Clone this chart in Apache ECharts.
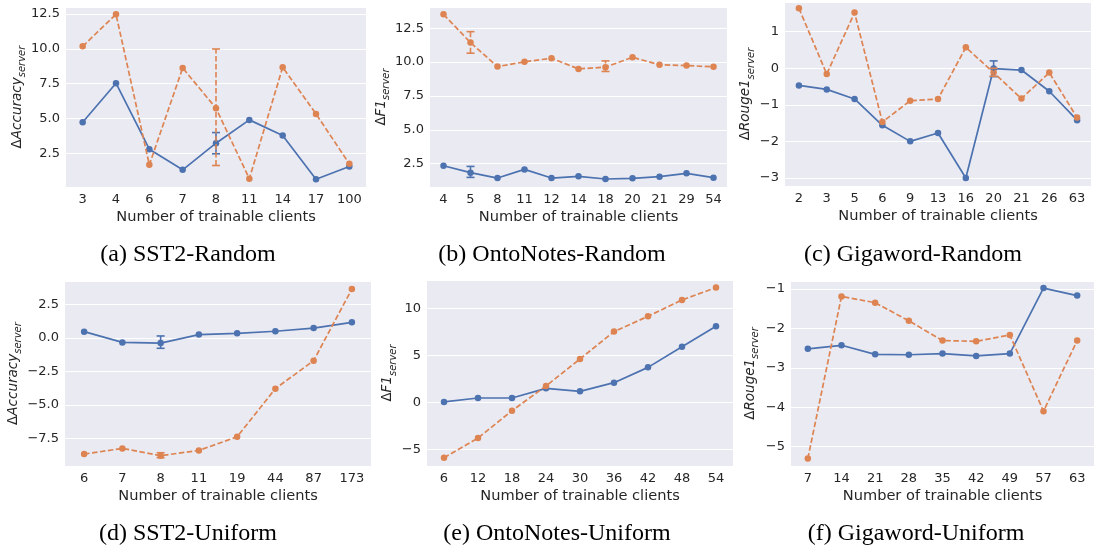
<!DOCTYPE html>
<html>
<head>
<meta charset="utf-8">
<script src="https://cdn.jsdelivr.net/npm/echarts@6/dist/echarts.min.js"></script>
<style>
html,body{margin:0;padding:0;background:#fff;}
#chart{width:1094px;height:551px;}
</style>
</head>
<body>
<div id="chart"></div>
<script>
// ---------- data ----------
const catsA = ['3','4','6','7','8','11','14','17','100'];
const blueA = [4.74, 7.54, 2.81, 1.33, 3.24, 4.91, 3.79, 0.66, 1.57];
const orangeA = [10.18, 12.48, 1.69, 8.63, 5.75, 0.69, 8.68, 5.34, 1.76];
const errBlueA = [['8', 2.48, 4.0]];
const errOrangeA = [['8', 1.64, 9.99]];

const catsB = ['4','5','8','11','12','14','18','20','21','29','54'];
const blueB = [2.35, 1.84, 1.44, 2.08, 1.44, 1.57, 1.37, 1.42, 1.54, 1.79, 1.47];
const orangeB = [13.53, 11.44, 9.67, 10.02, 10.29, 9.50, 9.63, 10.36, 9.80, 9.75, 9.65];
const errBlueB = [['5', 1.49, 2.30]];
const errOrangeB = [['5', 10.66, 12.25], ['18', 9.31, 10.09]];

const catsC = ['2','3','5','6','9','13','16','20','21','26','63'];
const blueC = [-0.47, -0.58, -0.84, -1.56, -2.00, -1.77, -3.00, -0.01, -0.05, -0.63, -1.42];
const orangeC = [1.64, -0.16, 1.52, -1.47, -0.89, -0.84, 0.57, -0.12, -0.83, -0.12, -1.35];
const errBlueC = [['20', -0.23, 0.20]];
const errOrangeC = [['20', -0.22, 0.0]];

const catsD = ['6','7','8','11','19','44','87','173'];
const blueD = [0.46, -0.34, -0.39, 0.24, 0.34, 0.49, 0.73, 1.16];
const orangeD = [-8.67, -8.25, -8.79, -8.40, -7.38, -3.79, -1.70, 3.64];
const errBlueD = [['8', -0.78, 0.14]];
const errOrangeD = [['8', -8.94, -8.57]];

const catsE = ['6','12','18','24','30','36','42','48','54'];
const blueE = [0.04, 0.46, 0.46, 1.49, 1.17, 2.09, 3.72, 5.92, 8.09];
const orangeE = [-5.89, -3.79, -0.89, 1.74, 4.61, 7.52, 9.15, 10.89, 12.2];
const errBlueE = [];
const errOrangeE = [];

const catsF = ['7','14','21','28','35','42','49','57','63'];
const blueF = [-2.52, -2.43, -2.66, -2.67, -2.64, -2.70, -2.64, -0.98, -1.17];
const orangeF = [-5.30, -1.19, -1.35, -1.81, -2.31, -2.33, -2.17, -4.10, -2.31];
const errBlueF = [];
const errOrangeF = [];

const captions = ['(a) SST2-Random', '(b) OntoNotes-Random', '(c) Gigaword-Random',
                  '(d) SST2-Uniform', '(e) OntoNotes-Uniform', '(f) Gigaword-Uniform'];
const xTitle = 'Number of trainable clients';
const yNames = ['Accuracy', 'F1', 'Rouge1', 'Accuracy', 'F1', 'Rouge1'];
const ySub = 'server';

// ---------- styling / layout ----------
const BLUE = '#4c72b0', ORANGE = '#dd8452';
const TXT = '#262626';
const FONT = 'DejaVu Sans';

const panels = [
  {cats: catsA, blue: blueA, orange: orangeA, eb: errBlueA, eo: errOrangeA,
   grid: {left: 66, top: 7, width: 300, height: 180}, min: 0.1, max: 13.0, step: 2.5, dec: 1, gap: 35},
  {cats: catsB, blue: blueB, orange: orangeB, eb: errBlueB, eo: errOrangeB,
   grid: {left: 430, top: 7, width: 297, height: 180}, min: 0.78, max: 14.07, step: 2.5, dec: 1, gap: 39},
  {cats: catsC, blue: blueC, orange: orangeC, eb: errBlueC, eo: errOrangeC,
   grid: {left: 785, top: 2, width: 306, height: 184}, min: -3.22, max: 1.81, step: 1, dec: 0, gap: 29},
  {cats: catsD, blue: blueD, orange: orangeD, eb: errBlueD, eo: errOrangeD,
   grid: {left: 65, top: 281, width: 306, height: 185}, min: -9.56, max: 4.24, step: 2.5, dec: 1, gap: 39},
  {cats: catsE, blue: blueE, orange: orangeE, eb: errBlueE, eo: errOrangeE,
   grid: {left: 427, top: 280, width: 306, height: 186}, min: -6.77, max: 13.01, step: 5, dec: 0, gap: 29},
  {cats: catsF, blue: blueF, orange: orangeF, eb: errBlueF, eo: errOrangeF,
   grid: {left: 791, top: 281, width: 306, height: 185}, min: -5.49, max: -0.80, step: 1, dec: 0, gap: 31}
];
const capPos = [[188, 243], [552, 243], [913, 243], [188, 522], [557, 522], [916, 522]];

const fmt = (dec) => (v) => v.toFixed(dec).replace('-', '\u2212');

const grids = [], xAxes = [], yAxes = [], series = [], titles = [];

function errSeries(data, idx, color, dashed) {
  return {
    type: 'custom', xAxisIndex: idx, yAxisIndex: idx, z: 5,
    data: data,
    encode: {x: 0, y: [1, 2]},
    renderItem: function (params, api) {
      const x = api.value(0);
      const pLo = api.coord([x, api.value(1)]);
      const pHi = api.coord([x, api.value(2)]);
      const w = 4;
      return {type: 'group', children: [
        {type: 'line', shape: {x1: pLo[0], y1: pLo[1], x2: pHi[0], y2: pHi[1]},
         style: {stroke: color, lineWidth: 1.6, lineDash: dashed ? [5.5, 2.5] : null}},
        {type: 'line', shape: {x1: pLo[0] - w, y1: pLo[1], x2: pLo[0] + w, y2: pLo[1]},
         style: {stroke: color, lineWidth: 1.6}},
        {type: 'line', shape: {x1: pHi[0] - w, y1: pHi[1], x2: pHi[0] + w, y2: pHi[1]},
         style: {stroke: color, lineWidth: 1.6}}
      ]};
    }
  };
}

panels.forEach((p, i) => {
  grids.push(Object.assign({show: true, backgroundColor: '#eaeaf2', borderWidth: 0, containLabel: false}, p.grid));
  xAxes.push({
    type: 'category', gridIndex: i, data: p.cats, boundaryGap: true,
    axisLine: {show: false}, axisTick: {show: false},
    axisLabel: {color: TXT, fontFamily: FONT, fontSize: 13, margin: 6, interval: 0},
    splitLine: {show: false},
    name: xTitle, nameLocation: 'middle', nameGap: 23,
    nameTextStyle: {color: TXT, fontFamily: FONT, fontSize: 14.6}
  });
  yAxes.push({
    type: 'value', gridIndex: i, min: p.min, max: p.max,
    minInterval: p.step, maxInterval: p.step,
    axisLine: {show: false}, axisTick: {show: false},
    axisLabel: {color: TXT, fontFamily: FONT, fontSize: 13, margin: 6,
                showMinLabel: false, showMaxLabel: false, formatter: fmt(p.dec)},
    splitLine: {show: true, lineStyle: {color: '#ffffff', width: 1}},
    name: '{d|\u0394}{m|' + yNames[i] + '}{s|' + ySub + '}',
    nameLocation: 'middle', nameGap: p.gap, nameRotate: 90,
    nameTextStyle: {
      color: TXT, fontFamily: FONT,
      rich: {
        d: {fontSize: 13.5, fontFamily: FONT, color: TXT, lineHeight: 20},
        m: {fontSize: 13.5, fontFamily: FONT, fontStyle: 'italic', color: TXT, lineHeight: 20},
        s: {fontSize: 10, fontFamily: FONT, fontStyle: 'italic', color: TXT, lineHeight: 10, verticalAlign: 'bottom'}
      }
    }
  });
  series.push({
    type: 'line', xAxisIndex: i, yAxisIndex: i, data: p.blue,
    symbol: 'circle', symbolSize: 6.5, showSymbol: true,
    lineStyle: {color: BLUE, width: 1.7}, itemStyle: {color: BLUE},
    z: 3, animation: false
  });
  series.push({
    type: 'line', xAxisIndex: i, yAxisIndex: i, data: p.orange,
    symbol: 'circle', symbolSize: 6.5, showSymbol: true,
    lineStyle: {color: ORANGE, width: 1.7, type: [5.5, 2.5]}, itemStyle: {color: ORANGE},
    z: 4, animation: false
  });
  if (p.eb.length) series.push(errSeries(p.eb, i, BLUE, false));
  if (p.eo.length) series.push(errSeries(p.eo, i, ORANGE, true));
  titles.push({
    text: captions[i], left: capPos[i][0], top: capPos[i][1], textAlign: 'center', padding: 0,
    textStyle: {fontFamily: 'Liberation Serif', fontSize: 24, fontWeight: 'normal', color: '#000'}
  });
});

const chart = echarts.init(document.getElementById('chart'), null, {renderer: 'canvas'});
chart.setOption({
  animation: false,
  backgroundColor: '#ffffff',
  title: titles,
  grid: grids, xAxis: xAxes, yAxis: yAxes, series: series
});
</script>
</body>
</html>
